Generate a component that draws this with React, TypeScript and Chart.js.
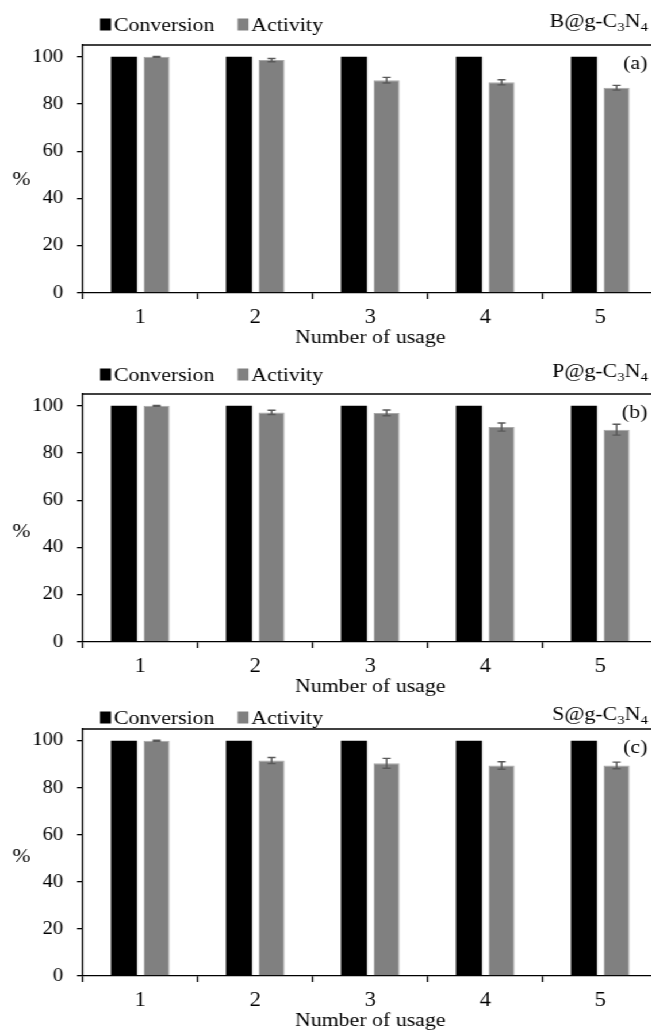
import React, { useEffect, useRef } from 'react';
import { Chart, registerables } from 'chart.js';

Chart.register(...registerables);

// ---------- data ----------
const usageLabels = ['1', '2', '3', '4', '5'];
const seriesNames = ['Conversion', 'Activity'];

const conversionA = [100, 100, 100, 100, 100];
const activityA = [100, 98.6, 90.1, 89.2, 86.9];
const activityErrA = [0.2, 0.7, 1.2, 1.1, 1.0];

const conversionB = [100, 100, 100, 100, 100];
const activityB = [100, 97.2, 97.0, 91.0, 89.9];
const activityErrB = [0.2, 0.9, 1.2, 1.7, 2.3];

const conversionC = [100, 100, 100, 100, 100];
const activityC = [100, 91.6, 90.4, 89.5, 89.5];
const activityErrC = [0.2, 1.3, 2.1, 1.6, 1.4];

const yTickValues = [0, 20, 40, 60, 80, 100];

// ---------- layout ----------
const FONT = "'Liberation Serif', 'Times New Roman', Times, serif";
const STRETCH = 1.15;
const DW = 580;

const panels = [
  { top: 0, height: 349, conv: conversionA, act: activityA, err: activityErrA, mat: 'B', tag: '(a)', legendDy: -21, pct: 48 },
  { top: 349, height: 349, conv: conversionB, act: activityB, err: activityErrB, mat: 'P', tag: '(b)', legendDy: -20, pct: 46.6 },
  { top: 684, height: 348, conv: conversionC, act: activityC, err: activityErrC, mat: 'S', tag: '(c)', legendDy: -12, pct: 50.5 },
];

const decorPlugin = {
  id: 'decor',
  afterDatasetsDraw(chart: any, _args: any, opts: any) {
    const { ctx } = chart;
    const yScale = chart.scales.y;
    const meta = chart.getDatasetMeta(1);
    const errs: number[] = opts.errors || [];
    const vals: number[] = chart.data.datasets[1].data;
    ctx.save();
    ctx.strokeStyle = '#595959';
    ctx.lineWidth = 1.4;
    meta.data.forEach((bar: any, i: number) => {
      const e = errs[i];
      if (e == null) return;
      const x = bar.x;
      const yHi = yScale.getPixelForValue(vals[i] + e);
      const yLo = yScale.getPixelForValue(vals[i] - e);
      const cw = 3.5;
      ctx.beginPath();
      ctx.moveTo(x, yHi);
      ctx.lineTo(x, yLo);
      ctx.moveTo(x - cw, yHi);
      ctx.lineTo(x + cw, yHi);
      ctx.moveTo(x - cw, yLo);
      ctx.lineTo(x + cw, yLo);
      ctx.stroke();
    });
    ctx.restore();
  },
  afterDraw(chart: any, _args: any, opts: any) {
    const { ctx, chartArea } = chart;
    const yScale = chart.scales.y;
    ctx.save();
    // top frame line
    ctx.strokeStyle = '#000';
    ctx.lineWidth = 1.3;
    ctx.beginPath();
    ctx.moveTo(chartArea.left, chartArea.top);
    ctx.lineTo(chartArea.right, chartArea.top);
    ctx.stroke();

    // legend
    const legendCenter = chartArea.top + opts.legendDy;
    const baseline = legendCenter + 6.5;
    ctx.font = `19px ${FONT}`;
    ctx.textBaseline = 'alphabetic';
    ctx.textAlign = 'left';
    let x = 87;
    chart.data.datasets.forEach((ds: any) => {
      ctx.fillStyle = ds.backgroundColor;
      ctx.fillRect(x, baseline - 12, 9.5, 12);
      ctx.fillStyle = '#000';
      const tx = x + 12;
      ctx.fillText(ds.label, tx, baseline);
      x = tx + ctx.measureText(ds.label).width + 20;
    });

    // material label with subscripts, right aligned
    const parts: [string, boolean][] = [[opts.mat + '@g-C', false], ['3', true], ['N', false], ['4', true]];
    const mainFont = `19px ${FONT}`;
    const subFont = `13px ${FONT}`;
    let total = 0;
    parts.forEach(([t, sub]) => {
      ctx.font = sub ? subFont : mainFont;
      total += ctx.measureText(t).width;
    });
    let lx = 563.5 - total;
    const lb = baseline - 4;
    ctx.fillStyle = '#000';
    parts.forEach(([t, sub]) => {
      ctx.font = sub ? subFont : mainFont;
      ctx.fillText(t, lx, sub ? lb + 4 : lb);
      lx += ctx.measureText(t).width;
    });

    // panel tag
    ctx.font = mainFont;
    ctx.textAlign = 'right';
    ctx.textBaseline = 'middle';
    ctx.fillText(opts.tag, 563, chartArea.top + 19);

    // % axis label
    ctx.textAlign = 'center';
    ctx.fillText('%', 18.7, yScale.getPixelForValue(opts.pct));
    ctx.restore();
  },
};

function Panel({ p }: { p: any }) {
  const ref = useRef<HTMLCanvasElement | null>(null);
  useEffect(() => {
    if (!ref.current) return;
    const chart = new Chart(ref.current, {
      type: 'bar',
      data: {
        labels: usageLabels,
        datasets: [
          {
            label: seriesNames[0],
            data: p.conv,
            backgroundColor: '#000000',
            borderWidth: 0,
            categoryPercentage: 0.567,
            barPercentage: 0.8,
          },
          {
            label: seriesNames[1],
            data: p.act,
            backgroundColor: '#808080',
            borderColor: '#a8a8a8',
            borderWidth: 1,
            categoryPercentage: 0.567,
            barPercentage: 0.8,
          },
        ],
      },
      plugins: [decorPlugin],
      options: {
        responsive: false,
        animation: false,
        devicePixelRatio: 1,
        layout: { padding: { top: 45, right: 8, left: 0, bottom: 0 } },
        plugins: {
          legend: { display: false },
          tooltip: { enabled: false },
          decor: { errors: p.err, mat: p.mat, tag: p.tag, legendDy: p.legendDy, pct: p.pct },
        } as any,
        scales: {
          x: {
            afterFit: (s: any) => { s.height = 56; },
            ticks: { padding: 7, color: '#000', font: { family: FONT, size: 20 } },
            grid: { offset: true, drawOnChartArea: false, drawTicks: true, tickLength: 6, color: '#000', lineWidth: 1.3 },
            border: { display: true, color: '#000', width: 1.3 },
            title: { display: true, text: 'Number of usage', color: '#000', font: { family: FONT, size: 19 }, padding: { top: 0, bottom: 0 } },
          },
          y: {
            min: 0,
            max: 105,
            afterFit: (s: any) => { s.width = 72; },
            afterBuildTicks: (s: any) => {
              s.ticks = yTickValues.map((v) => ({ value: v }));
            },
            ticks: { stepSize: 20, padding: 12, color: '#000', font: { family: FONT, size: 18 } },
            grid: { drawOnChartArea: false, drawTicks: true, tickLength: 5, color: '#000', lineWidth: 1.3 },
            border: { display: true, color: '#000', width: 1.3 },
          },
        },
      } as any,
    });
    return () => chart.destroy();
  }, [p]);
  return (
    <canvas
      ref={ref}
      width={DW}
      height={p.height}
      style={{ position: 'absolute', left: 0, top: p.top, width: DW, height: p.height }}
    />
  );
}

export default function App() {
  return (
    <div style={{ position: 'absolute', left: 0, top: 0, width: 651, height: 1032, overflow: 'hidden', background: '#fff' }}>
      <div style={{ position: 'absolute', left: 0, top: 0, width: DW, height: 1032, transform: `scaleX(${STRETCH})`, transformOrigin: '0 0' }}>
        {panels.map((p, i) => (
          <Panel key={i} p={p} />
        ))}
      </div>
    </div>
  );
}
